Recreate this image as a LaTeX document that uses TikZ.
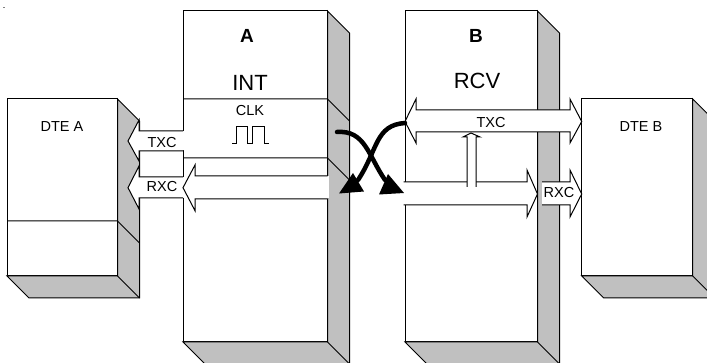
\documentclass[tikz,border=0pt]{standalone}
\usepackage{fontspec}
\setmainfont{Liberation Sans}
\usetikzlibrary{calc, positioning}
\definecolor{FaceGray}{RGB}{192, 192, 192}

\begin{document}
\begin{tikzpicture}[x=1pt, y=-1pt, line width=1pt,
	box/.style={draw, fill=white, anchor=north west, inner sep=0pt, outer sep=0pt},
	sideface/.style={draw, fill=FaceGray, line join=miter},
	blockarrow/.style={draw, fill=white, line join=miter},
	crossing/.style={line width=4.5pt, line cap=round},
	lbl/.style={inner sep=0pt, font=\fontsize{14.5}{16}\selectfont},
	biglbl/.style={inner sep=0pt, font=\fontsize{22}{24}\selectfont},
	title/.style={inner sep=0pt, font=\fontsize{19}{21}\selectfont\bfseries}]
	\useasboundingbox (0,0) rectangle (707,363);
	\node[box, minimum width=110.5pt, minimum height=177pt] (dtea) at (7,99) {};
	\node[box, minimum width=144.5pt, minimum height=331pt] (unita) at (183,11) {};
	\node[box, minimum width=132.5pt, minimum height=331pt] (unitb) at (405,11) {};
	\node[box, minimum width=111pt, minimum height=177pt] (dteb) at (581.7,99) {};
	\foreach \b in {dtea, unita, unitb, dteb} {
		\draw[sideface] (\b.north east) -- ++(22,22) -- ($(\b.south east)+(22,22)$) -- ($(\b.south west)+(22,22)$) -- (\b.south west) -- (\b.south east) -- cycle;
		\draw (\b.south east) -- ++(22,22);
	}
	% dividers
	\draw (7,221) -- (117.5,221) -- ++(22,22);
	\draw (183,99) -- (327.5,99) -- ++(22,22);
	\draw (183,158) -- (327.5,158) -- ++(22,22);
	% clock
	\draw (232,143.5) -- (236,143.5) -- (236,126.7) -- (247,126.7) -- (247,143.5) -- (252,143.5) -- (252,126.7) -- (264,126.7) -- (264,143.5) -- (269,143.5);
	% arrows on the left
	\fill[white] (139,131.5) rectangle (184,150.5);
	\fill[white] (139,177) rectangle (184,198);
	\draw[blockarrow] (183,131) -- (139,131) -- (139,120) -- (128,141) -- (139,161) -- (139,151) -- (183,151);
	\draw[blockarrow] (183,177) -- (139,177) -- (139,166) -- (128,187.7) -- (139,209) -- (139,198) -- (183,198);
	\fill[white] (327,176.5) rectangle (329,198.5);
	\draw[blockarrow] (327.5,176) -- (195,176) -- (195,165) -- (183,187.7) -- (195,210.7) -- (195,199) -- (327.5,199);
	% arrows on the right
	\draw[blockarrow] (405,121.5) -- (416,99) -- (416,110) -- (570,110) -- (570,99) -- (581.7,121.5) -- (570,143) -- (570,132) -- (416,132) -- (416,143) -- cycle;
	\fill[white] (403.5,182.5) rectangle (406,204.5);
	\draw[blockarrow] (403.5,182) -- (527,182) -- (527,170) -- (537.5,194) -- (527,217) -- (527,205) -- (403.5,205);
	\draw[blockarrow] (467,187) -- (467,137) -- (463,137) -- (471,133) -- (480,137) -- (476,137) -- (476,187);
	\draw[blockarrow] (542,182) -- (570,182) -- (570,170) -- (581.7,194) -- (570,217) -- (570,205) -- (542,205);
	% crossing lines
	\coordinate (txa) at (337,132);
	\coordinate (txb) at (405,123);
	\coordinate (endb) at (385,180);
	\coordinate (enda) at (358,180);
	\draw[crossing] (txa) .. controls (365,130) and (368,155) .. (endb);
	\draw[crossing] (txb) .. controls (375,125) and (378,150) .. (enda);
	\fill (388,174) -- (379,194.5) -- (404,193) -- cycle;
	\fill (353,173) -- (339,193.5) -- (364,191.5) -- cycle;
	% labels
	\node[lbl] (dtealbl) at (62,127) {DTE A};
	\node[lbl] (dteblbl) at (641,127) {DTE B};
	\node[title] (alabel) at (247,36) {A};
	\node[title] (blabel) at (476,36) {B};
	\node[biglbl] (intlbl) at (250,83) {INT};
	\node[biglbl] (rcvlbl) at (477,81) {RCV};
	\node[lbl] (clklbl) at (250,110.7) {CLK};
	\node[lbl] (txcl) at (162,143) {TXC};
	\node[lbl] (rxcl) at (162,187) {RXC};
	\node[lbl] (txcr) at (491,123) {TXC};
	\node[lbl] (rxcr) at (559,193) {RXC};
	\fill[gray] (3.2,6.8) rectangle (4.6,8.2);
\end{tikzpicture}
\end{document}
